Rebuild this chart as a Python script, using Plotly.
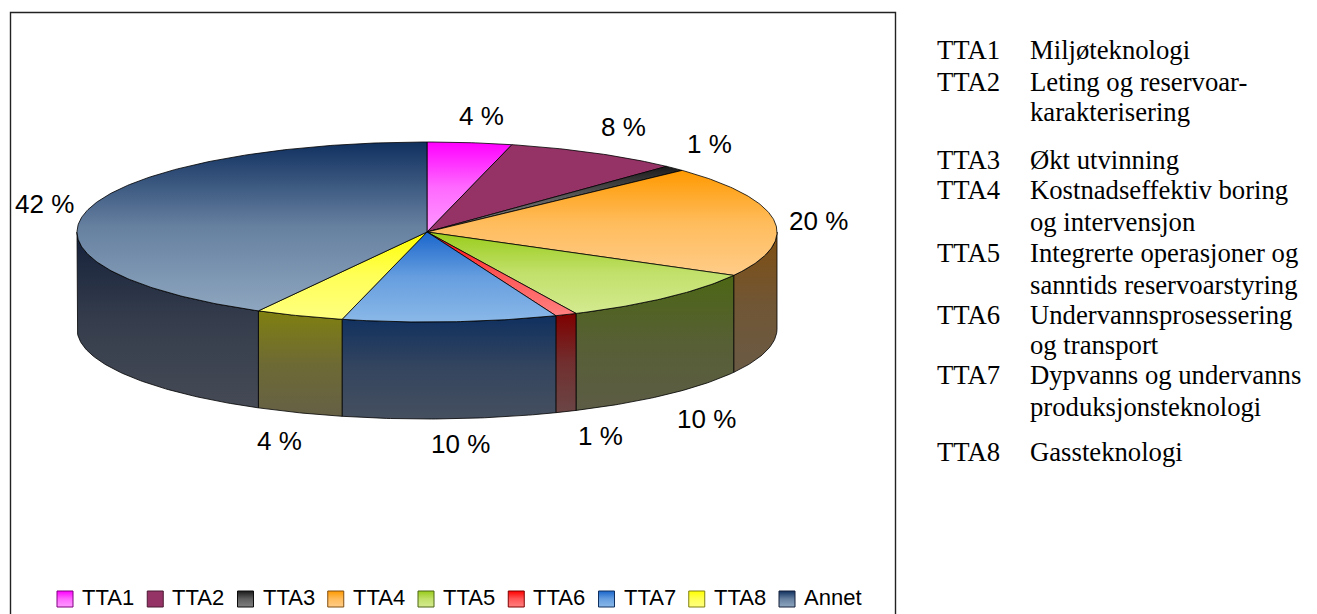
import math
import plotly.graph_objects as go

categories = ["TTA1", "TTA2", "TTA3", "TTA4", "TTA5", "TTA6", "TTA7", "TTA8", "Annet"]
shares = [3.9, 8.1, 1, 20, 10, 1, 9.9, 4.1, 42]
value_labels = ["4 %", "8 %", "1 %", "20 %", "10 %", "1 %", "10 %", "4 %", "42 %"]

top_dark = ["#FF00FF", "#963366", "#1A1A1A", "#FF9900", "#99CC1A", "#FF0000", "#1A66CC", "#FFFF00", "#10305F"]
top_light = ["#FF99FF", "#963366", "#808080", "#FFCC88", "#D4EA90", "#FF8080", "#8AB8E8", "#FFFF80", "#8EA6BF"]
side_dark = ["#800080", "#4B1A33", "#0D0D0D", "#804E10", "#4C6614", "#7F0000", "#0F305F", "#808010", "#14203A"]
side_light = ["#655065", "#604550", "#454545", "#6A5A45", "#5C5C45", "#6B4545", "#454F5F", "#656045", "#454A55"]

glossary = [
    ("TTA1", "Miljøteknologi", 50), ("TTA2", "Leting og reservoar-", 82), ("", "karakterisering", 112),
    ("TTA3", "Økt utvinning", 160), ("TTA4", "Kostnadseffektiv boring", 190), ("", "og intervensjon", 222),
    ("TTA5", "Integrerte operasjoner og", 253), ("", "sanntids reservoarstyring", 285),
    ("TTA6", "Undervannsprosessering", 315), ("", "og transport", 345),
    ("TTA7", "Dypvanns og undervanns", 375), ("", "produksjonsteknologi", 407),
    ("TTA8", "Gassteknologi", 452),
]

# geometry of the drawing (page pixels)
PAGE_MARGIN = 8
CX, CY, RX, RY, DEPTH = 427, 232, 350, 90, 97
label_pos = [(481, 116), (623, 127), (709, 144), (818, 221), (706, 419), (600, 436), (460, 444), (279, 441), (44, 204)]
LEG_X0, LEG_STEP, LEG_Y, LEG_S = 57, 90.25, 599, 16
MID_FRACTION = 0.68
ARIAL, TIMES = "Liberation Sans", "Liberation Serif"


def pt(deg, dy=0):
    a = math.radians(deg)
    return CX + RX * math.sin(a), CY - RY * math.cos(a) + dy


def arc(a0, a1, dy=0):
    n = max(2, int(abs(a1 - a0) * 1.5) + 1)
    return [pt(a0 + (a1 - a0) * i / (n - 1), dy) for i in range(n)]


def mix(c0, c1, f):
    a = [int(c0[i:i + 2], 16) for i in (1, 3, 5)]
    b = [int(c1[i:i + 2], 16) for i in (1, 3, 5)]
    return "#" + "".join(f"{round(p + (q - p) * f):02X}" for p, q in zip(a, b))


def gradient(c_from, c_to, y0, y1):
    return dict(type="vertical", start=y0, stop=y1,
                colorscale=[[0, c_from], [0.5, mix(c_from, c_to, MID_FRACTION)], [1, c_to]])


def poly(pts, c_from, c_to, name):
    xs = [p[0] for p in pts] + [pts[0][0]]
    ys = [p[1] for p in pts] + [pts[0][1]]
    return go.Scatter(
        x=xs, y=ys, mode="lines", fill="toself", name=name, showlegend=False, hoverinfo="name",
        line=dict(color="#000000", width=0.8),
        fillgradient=gradient(c_from, c_to, min(ys), max(ys)),
    )


fig = go.Figure()
start = 0.0
bounds = []
for s in shares:
    bounds.append((start, start + s * 3.6))
    start += s * 3.6

for i, (a0, a1) in enumerate(bounds):
    lo, hi = max(a0, 90), min(a1, 270)
    if lo < hi:
        pts = arc(lo, hi) + arc(hi, lo, DEPTH)
        fig.add_trace(poly(pts, side_dark[i], side_light[i], categories[i]))

for i, (a0, a1) in enumerate(bounds):
    pts = [(CX, CY)] + arc(a0, a1)
    fig.add_trace(poly(pts, top_dark[i], top_light[i], categories[i]))

annotations = []
for lab, (x, y) in zip(value_labels, label_pos):
    annotations.append(dict(x=x, y=y, text=lab, showarrow=False, font=dict(family=ARIAL, size=26, color="#000")))

for i, name in enumerate(categories):
    x0 = LEG_X0 + i * LEG_STEP
    y0 = LEG_Y - LEG_S / 2
    xs = [x0, x0 + LEG_S, x0 + LEG_S, x0, x0]
    ys = [y0, y0, y0 + LEG_S, y0 + LEG_S, y0]
    fig.add_trace(go.Scatter(
        x=xs, y=ys, mode="lines", fill="toself", name=name, showlegend=False, hoverinfo="name",
        line=dict(color=side_dark[i], width=1),
        fillgradient=gradient(top_dark[i], top_light[i], y0, y0 + LEG_S),
    ))
    annotations.append(dict(x=x0 + 23, y=LEG_Y - 2, text=name, showarrow=False, xanchor="left",
                            font=dict(family=ARIAL, size=22, color="#000")))

for code, text, y in glossary:
    if code:
        annotations.append(dict(x=935, y=y, text=code, showarrow=False, xanchor="left",
                                font=dict(family=TIMES, size=26.7, color="#000")))
    annotations.append(dict(x=1028, y=y, text=text, showarrow=False, xanchor="left",
                            font=dict(family=TIMES, size=26.7, color="#000")))

fig.update_layout(
    width=1317 - PAGE_MARGIN, height=614 - PAGE_MARGIN, margin=dict(l=0, r=0, t=0, b=0),
    paper_bgcolor="#FFFFFF", plot_bgcolor="#FFFFFF", showlegend=False,
    xaxis=dict(range=[PAGE_MARGIN, 1317], visible=False, fixedrange=True),
    yaxis=dict(range=[614, PAGE_MARGIN], visible=False, fixedrange=True),
    annotations=annotations,
    shapes=[dict(type="rect", x0=10.5, y0=12.5, x1=895.5, y1=620, line=dict(color="#222222", width=1.4))],
)

fig.write_html("out.html", config={"displayModeBar": False})
